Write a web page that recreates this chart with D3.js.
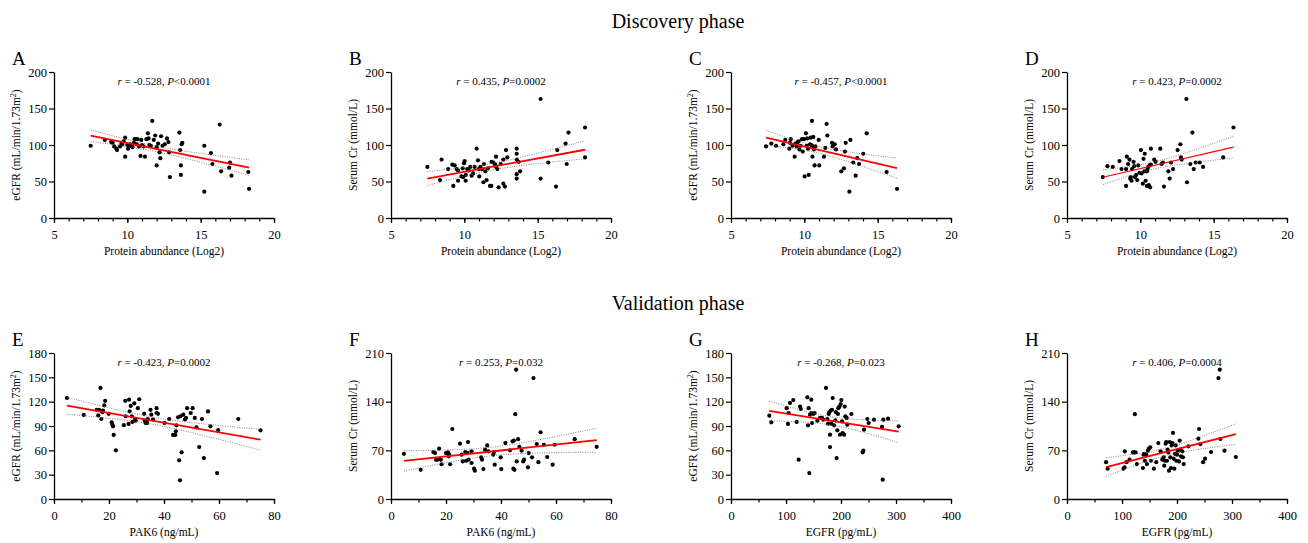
<!DOCTYPE html>
<html>
<head>
<meta charset="utf-8">
<script src="https://cdn.jsdelivr.net/npm/d3@7"></script>
<style>
body { margin:0; background:#fff; }
svg, svg text { font-family: "Liberation Serif", "Times New Roman", serif !important; }
</style>
</head>
<body>
<svg id="chart"></svg>
<script>
// discovery phase, protein abundance (log2) vs eGFR / serum Cr
var aX = [7.5,8.46,8.9,9.1,9.25,9.3,9.5,9.65,9.75,9.85,9.85,10.0,10.05,10.1,10.2,10.3,10.45,10.5,10.6,10.65,10.7,10.8,10.9,10.95,11.0,11.1,11.2,11.3,11.4,11.45,11.6,11.7,11.8,11.9,12.0,12.1,12.2,12.25,12.3,12.4,12.55,12.7,12.8,12.85,12.9,13.55,13.6,13.65,13.65,13.7,13.75,15.25,15.25,15.7,15.8,16.3,16.4,16.95,17.0,17.1,18.25,18.3,9.6,10.35,9.0,11.5,12.0]
var aY = [99,107,104,98,95,93,98,101,105,110,84,100,95,98,101,99,103,108,108,101,108,98,85,107,100,98,84,108,116,109,99,133,107,113,72,102,90,82,112,99,101,109,104,90,56,117,93,72,59,101,103,99,36,89,74,128,64,69,76,58,63,40,102,97,103,100,97]

var bX = [7.48,8.34,8.45,8.9,9.18,9.25,9.34,9.48,9.57,9.57,9.8,9.89,9.93,9.98,10.02,10.09,10.1,10.2,10.3,10.4,10.5,10.6,10.7,10.84,10.93,10.98,11.02,11.1,11.2,11.3,11.34,11.43,11.52,11.6,11.75,11.84,11.86,11.98,12.1,12.16,12.16,12.25,12.34,12.48,12.66,12.66,12.77,12.84,12.93,13.57,13.57,13.57,13.57,13.57,13.7,13.8,15.2,15.2,15.72,16.25,16.34,16.9,16.98,17.1,18.23,18.23]
var bY = [70,52,80,67,73,44,72,67,65,51,57,68,56,75,78,51,59,67,65,70,58,61,70,95,79,67,57,70,67,49,74,64,52,68,44,44,77,76,73,70,84,67,42,74,80,47,43,93,83,95,88,80,60,54,77,64,163,54,76,43,93,102,74,117,124,83]

var cX = [7.39,7.75,8.07,8.57,8.7,8.98,9.02,9.07,9.2,9.34,9.39,9.48,9.55,9.61,9.66,9.75,9.84,9.89,9.98,10.02,10.11,10.16,10.2,10.25,10.3,10.39,10.43,10.48,10.52,10.55,10.57,10.61,10.66,10.7,10.75,10.98,11.02,11.34,11.43,11.52,11.57,11.89,11.93,12.07,12.16,12.52,12.7,12.77,12.82,13.07,13.14,13.34,13.5,13.61,13.73,14.02,14.25,15.61,16.32]
var cY = [98,102,99,101,107,95,103,108,99,84,102,98,104,105,94,99,108,91,108,57,116,99,109,95,59,101,110,100,133,84,98,111,94,72,98,107,72,84,96,129,113,103,98,101,94,64,68,91,103,36,107,76,58,82,74,88,116,63,40]

var dX = [7.44,7.76,8.12,8.58,8.72,9.03,9.08,9.03,9.17,9.26,9.31,9.35,9.4,9.44,9.54,9.58,9.63,9.72,9.79,9.86,9.95,10.04,10.08,10.17,10.22,10.27,10.3,10.36,10.45,10.45,10.49,10.54,10.58,10.63,10.67,10.72,10.72,10.95,11.04,11.36,11.45,11.54,11.61,11.91,12.0,12.09,12.23,12.54,12.73,12.77,12.82,13.14,13.18,13.41,13.55,13.64,13.78,14.05,14.28,15.65,16.35]
var dY = [56,71,70,78,67,44,84,67,74,80,54,56,51,67,77,71,56,59,52,72,62,93,61,47,81,64,88,51,44,64,67,70,45,72,42,95,73,80,77,95,74,76,43,64,54,76,67,93,101,83,80,163,49,74,117,67,76,76,70,83,124]

// validation phase, PAK6 (ng/mL)
var eX = [4.7,10.8,15.5,16.1,16.4,16.9,17.2,17.6,17.8,18.3,18.6,19.9,21.0,21.2,21.5,21.7,22.5,25.4,25.9,26.1,27.1,27.3,27.5,27.9,28.3,28.5,29.2,29.5,29.7,30.5,31.0,32.8,33.0,33.3,33.6,33.9,34.1,35.1,35.4,36.0,37.3,37.3,37.8,40.2,41.9,43.3,44.1,44.3,44.5,45.1,45.5,45.8,46.0,46.4,47.0,47.6,48.0,48.4,49.7,50.4,51.2,51.8,52.8,53.8,54.5,56.0,56.9,59.3,59.7,67.0,75.1]
var eY = [124.5,103.6,110,103,110,137,98.6,107,109,115.5,121,105,94.5,91.6,89.6,79,60,91,121,102,92.5,122.5,108,114.7,102,95,118,98.6,96.6,112,123,105,96.6,93.7,95.8,93.7,98.6,110,104,98,112,106,105,93.7,98.6,79,79,83.4,90.8,100.7,47.7,23,102,57.5,104,98,100,112,106,112,100,88.4,64,98.6,50.5,108,89.6,32,85,98.6,84.7]

var fX = [4.7,10.8,15.4,16.0,16.4,16.8,17.5,18.1,18.4,20.0,20.7,21.0,21.2,21.5,22.3,25.1,25.7,26.1,27.0,27.3,28.0,27.8,28.2,29.3,29.3,30.2,30.5,32.8,33.1,33.6,34.2,35.0,35.4,37.2,37.5,37.7,39.9,40.1,41.6,43.3,44.2,44.5,44.7,44.9,45.2,45.5,45.7,46.2,46.7,47.5,48.1,48.4,49.8,50.1,51.3,51.8,53.0,53.6,54.4,55.6,56.8,58.8,59.5,66.8,74.8]
var fY = [65,42,67.6,66,56.6,56.6,72.4,56.6,50,66,67,61.4,63.8,50,100.7,79.6,63.8,54,67.6,55,82,66,56.6,68.6,51.8,43.6,40.8,60,56.6,43,71,77,68.6,63.8,67.6,49.4,60,43,80.5,70,83,43.6,84,42,122,186,54,86,75,69.5,54,56.6,45.5,66,60,174,79,53,96,78,60.4,49.4,78,86,75]

// validation phase, EGFR (pg/mL)
var gX = [69.7,73.3,101.2,103.6,104.8,107.3,113.3,119.4,125.5,126.7,123,138.8,140,141.2,142.4,143.6,146,146,147.3,149.7,152,157,161.8,165.5,167.9,172.7,175.2,176.4,177.6,178.8,180,180,181.2,182.4,183.6,184.8,187.3,189.7,190.9,192.1,193.3,194.5,195.2,197,198.2,199.4,200.6,201.8,203,205.5,206.7,207.9,210.3,211.5,218.8,239.4,240.6,241.8,247.9,250.3,260,274.5,275.8,277,285.5,304.8]
var gY = [102.7,94.5,112,92.5,106,118.4,122,95,114,111,48.5,125.4,90.8,112,32,104,122.5,106,93.7,104.8,106,96.6,100,100,97.8,136.9,98.6,92.9,104.8,107,79.3,64,109,92.9,110,124.5,90.8,97,107,50.5,84.7,104.8,112,114,79.3,117,122,95.8,81.4,79.3,113.9,102,100,91.6,104.8,57.5,59.6,85.5,98.6,93.7,97.8,88.8,23.8,97.8,99,89.6]

var hX = [71,74,102.7,104.6,105.2,108.2,113.7,119.8,122.2,123.4,124.6,127,138,139.2,140.4,141.6,144.1,145.3,147.1,148.9,151.4,152.6,158,162.3,166,170.2,173.3,175.7,176.9,178.1,179.3,180.5,181.8,183,184.2,185.4,186.6,187.8,189,190.3,191.5,192.7,193.9,195.1,196.4,197.6,198.8,200,201.2,203.6,204.9,206.1,207.3,209.7,210.9,212.2,220.7,238.9,240.1,242.6,247.4,251,262,275.4,277.8,279,286.3,307]
var hY = [53,43.6,43.6,45.5,68.6,53,56.6,67,67,122,67,50.3,44.6,63.8,65,55,63.8,50.3,69.5,72.4,74.3,55,43.6,53,80.5,68.6,56.6,60,47.9,55,79.6,82,55,71,67,40.8,82,60,44.6,77,80.5,95,58,43.6,65,77,55,63.8,69.5,54,84,71,61.4,68.6,60,50.3,75.8,86.8,100.7,79,53,58,67.6,174,186,86.3,69.5,60.4]

var letters = ["A","B","C","D","E","F","G","H"]
var rTexts = ["-0.528","0.435","-0.457","0.423","-0.423","0.253","-0.268","0.406"]
var pTexts = ["<0.0001","=0.0002","<0.0001","=0.0002","=0.0002","=0.032","=0.023","=0.0004"]
var xLabels = ["Protein abundance (Log2)","Protein abundance (Log2)","Protein abundance (Log2)","Protein abundance (Log2)","PAK6 (ng/mL)","PAK6 (ng/mL)","EGFR (pg/mL)","EGFR (pg/mL)"]
var yLabels = ["eGFR","Serum Cr (mmol/L)","eGFR","Serum Cr (mmol/L)","eGFR","Serum Cr (mmol/L)","eGFR","Serum Cr (mmol/L)"]
var phaseTitles = ["Discovery phase","Validation phase"]

var protTicks = [5,10,15,20]
var pakTicks = [0,20,40,60,80]
var egfrTicks = [0,100,200,300,400]
var top200Ticks = [0,50,100,150,200]
var e180Ticks = [0,30,60,90,120,150,180]
var c210Ticks = [0,70,140,210]

var panels = [
  {xs:aX, ys:aY, xt:protTicks, yt:top200Ticks, minor:1},
  {xs:bX, ys:bY, xt:protTicks, yt:top200Ticks, minor:1},
  {xs:cX, ys:cY, xt:protTicks, yt:top200Ticks, minor:1},
  {xs:dX, ys:dY, xt:protTicks, yt:top200Ticks, minor:1},
  {xs:eX, ys:eY, xt:pakTicks, yt:e180Ticks, minor:10},
  {xs:fX, ys:fY, xt:pakTicks, yt:c210Ticks, minor:10},
  {xs:gX, ys:gY, xt:egfrTicks, yt:e180Ticks, minor:50},
  {xs:hX, ys:hY, xt:egfrTicks, yt:c210Ticks, minor:50}
]

var screen = {width:1308, height:543}
var serif = "'Liberation Serif', 'Times New Roman', serif"
var colLeft = [54, 391, 731, 1067]
var plotW = 220
var rowTop = [72, 353]
var plotH = 146

var svg = d3.select("#chart")
  .attr("width", screen.width)
  .attr("height", screen.height)
  .attr("font-family", serif)

svg.selectAll(".phase")
  .data(phaseTitles)
  .enter()
  .append("text")
  .attr("class", "phase")
  .attr("x", 678)
  .attr("y", function(d, i){ return i == 0 ? 28 : 310 })
  .attr("text-anchor", "middle")
  .attr("font-size", 20)
  .text(function(d){ return d })

// least squares fit + 95% band for the mean
var fitLine = function(xs, ys)
{
  var n = xs.length
  var mx = d3.mean(xs), my = d3.mean(ys)
  var sxx = 0, sxy = 0
  for (var i = 0; i < n; i++) {
    sxx += (xs[i]-mx)*(xs[i]-mx)
    sxy += (xs[i]-mx)*(ys[i]-my)
  }
  var b = sxy/sxx
  var a = my - b*mx
  var sse = 0
  for (var j = 0; j < n; j++) {
    var e = ys[j] - (a + b*xs[j])
    sse += e*e
  }
  var s = Math.sqrt(sse/(n-2))
  var t = 1.995
  var x0 = d3.min(xs), x1 = d3.max(xs)
  var pts = d3.range(41).map(function(k){
    var x = x0 + (x1-x0)*k/40
    var yh = a + b*x
    var h = t*s*Math.sqrt(1/n + (x-mx)*(x-mx)/sxx)
    return {x:x, y:yh, lo:yh-h, hi:yh+h}
  })
  return pts
}

panels.forEach(function(p, i)
{
  var left = colLeft[i % 4]
  var top = rowTop[Math.floor(i/4)]
  var xt = p.xt, yt = p.yt

  var xScale = d3.scaleLinear()
    .domain([xt[0], xt[xt.length-1]])
    .range([left, left+plotW])
  var yScale = d3.scaleLinear()
    .domain([yt[0], yt[yt.length-1]])
    .range([top+plotH, top])

  var g = svg.append("g").attr("font-family", serif)

  // minor x ticks
  var minorVals = d3.range(xt[0], xt[xt.length-1] + 0.001, p.minor)
  g.append("g")
    .attr("transform", "translate(0," + (top+plotH) + ")")
    .call(d3.axisBottom(xScale).tickValues(minorVals).tickSize(3.5).tickFormat("").tickSizeOuter(0))
    .call(function(ax){ ax.select(".domain").remove() })
    .selectAll("line").attr("stroke-width", 1.2)

  var xAxis = g.append("g")
    .attr("transform", "translate(0," + (top+plotH) + ")")
    .call(d3.axisBottom(xScale).tickValues(xt).tickSize(5).tickPadding(7).tickSizeOuter(0))
  var yAxis = g.append("g")
    .attr("transform", "translate(" + left + ",0)")
    .call(d3.axisLeft(yScale).tickValues(yt).tickSize(5).tickPadding(2).tickSizeOuter(0))

  ;[xAxis, yAxis].forEach(function(ax){
    ax.attr("font-family", serif).attr("font-size", 12.5)
    ax.select(".domain").attr("stroke-width", 1.3)
    ax.selectAll("line").attr("stroke-width", 1.2)
    ax.selectAll("text").attr("fill", "#000")
  })

  // points
  var pts = p.xs.map(function(x, k){ return {x:x, y:p.ys[k]} })
  g.selectAll("circle")
    .data(pts)
    .enter()
    .append("circle")
    .attr("cx", function(d){ return xScale(d.x) })
    .attr("cy", function(d){ return yScale(d.y) })
    .attr("r", 2.1)
    .attr("fill", "#000")

  var fit = fitLine(p.xs, p.ys)
  var band = function(key){
    return d3.line()
      .x(function(d){ return xScale(d.x) })
      .y(function(d){ return yScale(d[key]) })
  }
  ;["lo","hi"].forEach(function(k){
    g.append("path")
      .datum(fit)
      .attr("d", band(k))
      .attr("fill", "none")
      .attr("stroke", "#666")
      .attr("stroke-width", 0.8)
      .attr("stroke-dasharray", "1,1.4")
  })
  g.append("path")
    .datum([fit[0], fit[fit.length-1]])
    .attr("d", band("y"))
    .attr("fill", "none")
    .attr("stroke", "#ff0000")
    .attr("stroke-width", i == 3 ? 1.2 : 1.8)

  // stats
  var st = g.append("text")
    .attr("x", left + plotW/2)
    .attr("y", top + 13)
    .attr("text-anchor", "middle")
    .attr("font-size", 11)
  st.append("tspan").attr("font-style", "italic").text("r")
  st.append("tspan").text(" = " + rTexts[i] + ", ")
  st.append("tspan").attr("font-style", "italic").text("P")
  st.append("tspan").text(pTexts[i])

  // panel letter
  g.append("text")
    .attr("x", left - 42)
    .attr("y", top - 7)
    .attr("font-size", 19)
    .text(letters[i])

  // axis titles
  g.append("text")
    .attr("x", left + plotW/2)
    .attr("y", top + plotH + 37)
    .attr("text-anchor", "middle")
    .attr("font-size", 11.5)
    .text(xLabels[i])

  var yl = g.append("text")
    .attr("transform", "translate(" + (left - 34) + "," + (top + plotH/2) + ") rotate(-90)")
    .attr("text-anchor", "middle")
    .attr("font-size", 11.5)
  yl.append("tspan").text(yLabels[i])
  if (yLabels[i] == "eGFR") {
    yl.append("tspan").text(" (mL/min/1.73m")
    yl.append("tspan").attr("font-size", 8).attr("dy", -4).text("2")
    yl.append("tspan").attr("dy", 4).text(")")
  }
})
</script>
</body>
</html>
